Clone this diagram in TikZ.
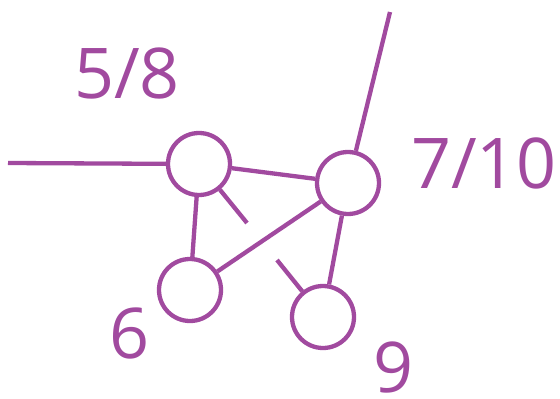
\documentclass[tikz,border=0pt]{standalone}
\usepackage{fontspec}
\setmainfont{Open Sans}
\usepackage{xcolor}
\definecolor{purple1}{HTML}{A14A9F}
\usepackage{tikz}
\usetikzlibrary{positioning, calc}

\begin{document}
\begin{tikzpicture}[
  x=1pt, y=-1pt,
  vertex/.style = {draw=purple1, circle, minimum size=62pt, inner sep=0pt,
                   line width=4.3pt},
  edge/.style   = {draw=purple1, line width=4.3pt},
  num/.style    = {text=purple1, font=\fontsize{70}{70}\selectfont,
                   inner sep=0pt, anchor=base}
]
\useasboundingbox (0,0) rectangle (560,399);

% ── VERTICES ────────────────────────────────────────────
\node[vertex] (v58)  at (199,164) {};
\node[vertex] (v710) at (348,183) {};
\node[vertex] (v6)   at (190,290) {};
\node[vertex] (v9)   at (323,317) {};

% ── LABELS ──────────────────────────────────────────────
\node[num] (l58)  at (127,98)  {5/8};
\node[num] (l710) at (484,188) {7/10};
\node[num] (l6)   at (130,358) {6};
\node[num] (l9)   at (394,392) {9};

% ── FREE ENDS ───────────────────────────────────────────
\coordinate (west)  at (8,163);
\coordinate (north) at (390,12);
\coordinate (stubA) at (247,223);
\coordinate (stubB) at (277,260);

% ── EDGES ───────────────────────────────────────────────
\draw[edge] (west) -- (v58);
\draw[edge] (north) -- (v710);
\draw[edge] (v58) -- (v710);
\draw[edge] (v58) -- (v6);
\draw[edge] (v710) -- (v6);
\draw[edge] (v710) -- (v9);
\draw[edge] (v58) -- (stubA);
\draw[edge] (v9) -- (stubB);

\end{tikzpicture}
\end{document}
